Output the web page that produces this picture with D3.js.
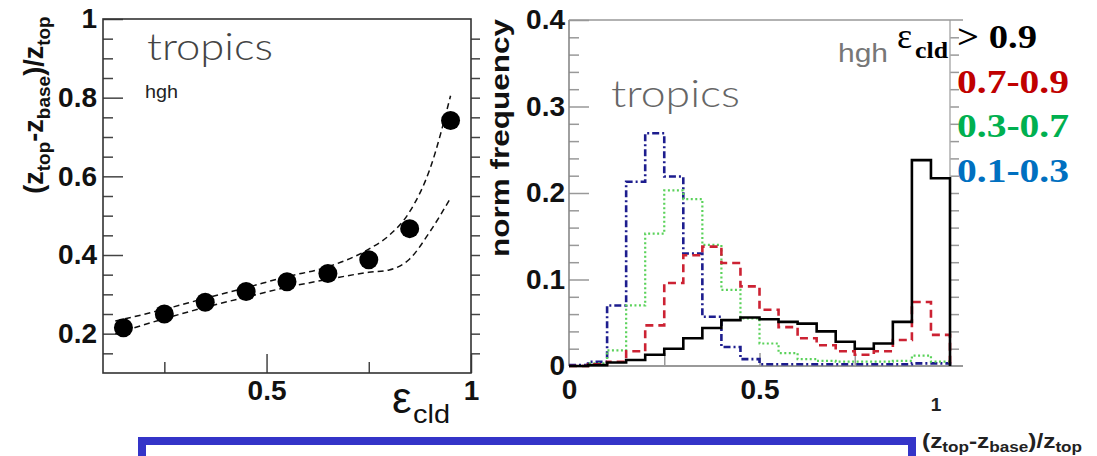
<!DOCTYPE html>
<html>
<head>
<meta charset="utf-8">
<script src="https://cdn.jsdelivr.net/npm/d3@7"></script>
<style>
  body { margin: 0; background: #fff; }
  svg { display: block; }
</style>
</head>
<body>
<svg id="drawing_region"></svg>
<script>
// left panel: mean cloud-thickness fraction vs emissivity
var epsBins = [0.15, 0.25, 0.35, 0.45, 0.55, 0.65, 0.75, 0.85, 0.95];
var meanFrac = [0.215, 0.25, 0.28, 0.307, 0.332, 0.353, 0.388, 0.467, 0.742];
var upperX = [0.13, 0.25, 0.35, 0.45, 0.55, 0.65, 0.75, 0.8, 0.85, 0.9, 0.95];
var upperY = [0.232, 0.262, 0.29, 0.317, 0.345, 0.37, 0.415, 0.45, 0.51, 0.62, 0.805];
var lowerX = [0.13, 0.25, 0.35, 0.45, 0.55, 0.65, 0.75, 0.8, 0.85, 0.9, 0.95];
var lowerY = [0.2, 0.238, 0.267, 0.293, 0.318, 0.338, 0.356, 0.362, 0.39, 0.46, 0.545];

// right panel: histograms of (ztop-zbase)/ztop, bins of 0.05
var binLo = [0, 0.05, 0.1, 0.15, 0.2, 0.25, 0.3, 0.35, 0.4, 0.45,
             0.5, 0.55, 0.6, 0.65, 0.7, 0.75, 0.8, 0.85, 0.9, 0.95];
var histBlack = [0, 0.001, 0.004, 0.007, 0.013, 0.020, 0.032, 0.044, 0.053, 0.056,
                 0.054, 0.051, 0.049, 0.040, 0.028, 0.020, 0.026, 0.051, 0.238, 0.217];
var histRed = [0, 0.002, 0.005, 0.017, 0.047, 0.096, 0.128, 0.138, 0.119, 0.092,
               0.065, 0.045, 0.032, 0.024, 0.017, 0.013, 0.017, 0.030, 0.074, 0.036];
var histGreen = [0, 0.003, 0.018, 0.07, 0.153, 0.203, 0.193, 0.14, 0.088, 0.055,
                 0.026, 0.015, 0.008, 0.006, 0.005, 0.005, 0.005, 0.006, 0.012, 0.005];
var histBlue = [0.001, 0.005, 0.07, 0.213, 0.269, 0.219, 0.13, 0.057, 0.022, 0.008,
                0.002, 0.002, 0.002, 0.002, 0.002, 0.002, 0.002, 0.002, 0.003, 0.003];

var legendLabels = ['> 0.9', '0.7-0.9', '0.3-0.7', '0.1-0.3'];
var legendColors = ['#000000', '#c00000', '#00b050', '#0070c0'];

var width = 1097, height = 456;
var svg = d3.select('#drawing_region')
    .attr('width', width)
    .attr('height', height);

var sans = 'Liberation Sans, Arial, sans-serif';
var serif = 'Liberation Serif, Times New Roman, serif';
var thin = 'Lato, DejaVu Sans, sans-serif';

// ---------- left panel ----------
const xL = d3.scaleLinear().domain([0.1, 1]).range([103, 471]);
const yL = d3.scaleLinear().domain([0.1, 1]).range([373, 19]);

const left = svg.append('g');

const yMinorL = d3.range(0.15, 0.99, 0.05).filter(v => Math.abs(v * 5 - Math.round(v * 5)) > 0.01);
// left axis, ticks pointing inward
left.append('g')
    .attr('transform', `translate(${xL(0.1)},0)`)
    .call(d3.axisLeft(yL).tickValues(yMinorL).tickSize(-10).tickFormat(''))
    .call(g => g.select('.domain').remove());
left.append('g')
    .attr('transform', `translate(${xL(0.1)},0)`)
    .call(d3.axisLeft(yL).tickValues([0.2, 0.4, 0.6, 0.8, 1]).tickSize(-20).tickPadding(6)
        .tickFormat(d => d === 1 ? '1' : d3.format('.1f')(d)))
    .call(g => g.select('.domain').remove())
    .call(g => g.selectAll('text').attr('font-size', 28).attr('font-weight', 'bold')
        .attr('font-family', sans).attr('fill', '#111'));
// right side ticks
left.append('g')
    .attr('transform', `translate(${xL(1)},0)`)
    .call(d3.axisRight(yL).tickValues(d3.range(0.15, 0.99, 0.05)).tickSize(9).tickFormat(''))
    .call(g => g.select('.domain').remove());
// bottom axis
left.append('g')
    .attr('transform', `translate(0,${yL(0.1)})`)
    .call(d3.axisBottom(xL).tickValues([0.25, 0.75]).tickSize(-11).tickFormat(''))
    .call(g => g.select('.domain').remove());
left.append('g')
    .attr('transform', `translate(0,${yL(0.1)})`)
    .call(d3.axisBottom(xL).tickValues([0.5, 1]).tickSize(-19).tickPadding(7)
        .tickFormat(d => d === 1 ? '1' : '0.5'))
    .call(g => g.select('.domain').remove())
    .call(g => g.selectAll('text').attr('font-size', 28).attr('font-weight', 'bold')
        .attr('font-family', sans).attr('fill', '#111'));
left.selectAll('.tick line').attr('stroke', '#444').attr('stroke-width', 1.5);

left.append('rect')
    .attr('x', xL(0.1)).attr('y', yL(1))
    .attr('width', xL(1) - xL(0.1)).attr('height', yL(0.1) - yL(1))
    .attr('fill', 'none').attr('stroke', '#333').attr('stroke-width', 1.6);

const curve = d3.line()
    .x(d => xL(d[0]))
    .y(d => yL(d[1]))
    .curve(d3.curveMonotoneX);
left.append('path')
    .attr('d', curve(d3.zip(upperX, upperY)))
    .attr('fill', 'none').attr('stroke', '#111').attr('stroke-width', 1.5)
    .attr('stroke-dasharray', '6,4');
left.append('path')
    .attr('d', curve(d3.zip(lowerX, lowerY)))
    .attr('fill', 'none').attr('stroke', '#111').attr('stroke-width', 1.5)
    .attr('stroke-dasharray', '6,4');

left.selectAll('circle.pt')
    .data(d3.zip(epsBins, meanFrac))
    .join('circle')
    .attr('class', 'pt')
    .attr('cx', d => xL(d[0]))
    .attr('cy', d => yL(d[1]))
    .attr('r', 9.5)
    .attr('fill', '#000');

left.append('text')
    .attr('x', 147).attr('y', 60)
    .attr('font-family', thin).attr('font-weight', 300).attr('font-size', 37)
    .attr('fill', '#444').attr('textLength', 126).attr('lengthAdjust', 'spacingAndGlyphs')
    .text('tropics');
left.append('text')
    .attr('x', 145).attr('y', 98)
    .attr('font-family', sans).attr('font-size', 18)
    .attr('fill', '#222').attr('textLength', 33).attr('lengthAdjust', 'spacingAndGlyphs')
    .text('hgh');

// y label
const ylab = left.append('text')
    .attr('transform', 'translate(43,105) rotate(-90)')
    .attr('text-anchor', 'middle')
    .attr('font-family', sans).attr('font-weight', 'bold').attr('font-size', 27)
    .attr('fill', '#111');
[['(z', 0], ['top', 1], ['-z', 0], ['base', 1], [')/z', 0], ['top', 1]].forEach(function (p, i, arr) {
    var prevSub = i > 0 ? arr[i - 1][1] : 0;
    ylab.append('tspan')
        .attr('font-size', p[1] ? 19 : 27)
        .attr('dy', p[1] && !prevSub ? 7 : (!p[1] && prevSub ? -7 : 0))
        .text(p[0]);
});

// epsilon_cld label
left.append('text')
    .attr('x', 392).attr('y', 413)
    .attr('font-family', sans).attr('font-size', 44).attr('fill', '#111')
    .text('\u03b5');
left.append('text')
    .attr('x', 413).attr('y', 423)
    .attr('font-family', sans).attr('font-size', 25).attr('fill', '#111')
    .attr('textLength', 37).attr('lengthAdjust', 'spacingAndGlyphs')
    .text('cld');

// ---------- right panel ----------
const xR = d3.scaleLinear().domain([0, 1]).range([569, 950]);
const yR = d3.scaleLinear().domain([0, 0.4]).range([366, 20]);
const right = svg.append('g');

right.append('g')
    .attr('transform', `translate(${xR(0)},0)`)
    .call(d3.axisLeft(yR).tickValues(d3.range(0.02, 0.399, 0.02).filter(v => Math.abs(v * 10 - Math.round(v * 10)) > 0.01))
        .tickSize(-10).tickFormat(''))
    .call(g => g.select('.domain').remove());
right.append('g')
    .attr('transform', `translate(${xR(0)},0)`)
    .call(d3.axisLeft(yR).tickValues([0, 0.1, 0.2, 0.3, 0.4]).tickSize(-20).tickPadding(4)
        .tickFormat(d => d === 0 ? '0' : d3.format('.1f')(d)))
    .call(g => g.select('.domain').remove())
    .call(g => g.selectAll('text').attr('font-size', 28).attr('font-weight', 'bold')
        .attr('font-family', sans).attr('fill', '#111'));
right.append('g')
    .attr('transform', `translate(${xR(1)},0)`)
    .call(d3.axisRight(yR).tickValues(d3.range(0.02, 0.399, 0.02)).tickSize(9).tickFormat(''))
    .call(g => g.select('.domain').remove());
right.append('g')
    .attr('transform', `translate(0,${yR(0)})`)
    .call(d3.axisBottom(xR).tickValues([0.25, 0.5, 0.75]).tickSize(-13).tickFormat(''))
    .call(g => g.select('.domain').remove());
right.selectAll('.tick line').attr('stroke', '#999').attr('stroke-width', 1.5);

right.append('line')
    .attr('x1', xR(0)).attr('x2', xR(0)).attr('y1', yR(0.4)).attr('y2', yR(0))
    .attr('stroke', '#888').attr('stroke-width', 1.6);
right.append('line')
    .attr('x1', xR(1)).attr('x2', xR(1)).attr('y1', yR(0.4)).attr('y2', yR(0))
    .attr('stroke', '#aaa').attr('stroke-width', 1.4);
right.append('line')
    .attr('x1', xR(0)).attr('x2', 963).attr('y1', yR(0.4)).attr('y2', yR(0.4))
    .attr('stroke', '#999').attr('stroke-width', 1.6);
right.append('line')
    .attr('x1', xR(0)).attr('x2', 963).attr('y1', yR(0)).attr('y2', yR(0))
    .attr('stroke', '#999').attr('stroke-width', 2);

// x tick labels
right.append('g')
    .attr('transform', `translate(0,${yR(0)})`)
    .call(d3.axisBottom(xR).tickValues([0, 0.5]).tickSize(0).tickPadding(13)
        .tickFormat(d => d === 0 ? '0' : '0.5'))
    .call(g => g.select('.domain').remove())
    .call(g => g.selectAll('text').attr('font-size', 28).attr('font-weight', 'bold')
        .attr('font-family', sans).attr('fill', '#111'));
right.append('text')
    .attr('x', 936).attr('y', 411).attr('text-anchor', 'middle')
    .attr('font-family', sans).attr('font-weight', 'bold').attr('font-size', 19)
    .attr('fill', '#222').text('1');

const step = d3.line()
    .x(d => xR(d[0]))
    .y(d => yR(d[1]))
    .curve(d3.curveStepAfter);
function histPoints(vals) {
    var pts = binLo.map((b, i) => [b, vals[i]]);
    pts.push([1, vals[vals.length - 1]]);
    pts.push([1, 0]);
    return pts;
}
var series = [
    { v: histBlue, color: '#1d1d8e', dash: '7,3,2,3', w: 2.6 },
    { v: histGreen, color: '#5ad25a', dash: '2,2.5', w: 2.2 },
    { v: histRed, color: '#cc2233', dash: '8,5', w: 2.6 },
    { v: histBlack, color: '#000', dash: null, w: 2.6 }
];
series.forEach(function (s) {
    right.append('path')
        .attr('d', step(histPoints(s.v)))
        .attr('fill', 'none')
        .attr('stroke', s.color)
        .attr('stroke-width', s.w)
        .attr('stroke-dasharray', s.dash);
});

right.append('text')
    .attr('x', 611).attr('y', 107)
    .attr('font-family', thin).attr('font-weight', 300).attr('font-size', 37)
    .attr('fill', '#666').attr('textLength', 129).attr('lengthAdjust', 'spacingAndGlyphs')
    .text('tropics');
right.append('text')
    .attr('x', 838).attr('y', 62)
    .attr('font-family', sans).attr('font-size', 26)
    .attr('fill', '#777').attr('textLength', 50).attr('lengthAdjust', 'spacingAndGlyphs')
    .text('hgh');

right.append('text')
    .attr('transform', 'translate(509,138) rotate(-90)')
    .attr('text-anchor', 'middle')
    .attr('font-family', sans).attr('font-weight', 'bold').attr('font-size', 26)
    .attr('fill', '#111').attr('textLength', 238).attr('lengthAdjust', 'spacingAndGlyphs')
    .text('norm frequency');

// bottom right axis label
const xlab = right.append('text')
    .attr('x', 922).attr('y', 448)
    .attr('font-family', sans).attr('font-weight', 'bold').attr('font-size', 20)
    .attr('fill', '#222').attr('textLength', 160).attr('lengthAdjust', 'spacingAndGlyphs');
[['(z', 0], ['top', 1], ['-z', 0], ['base', 1], [')/z', 0], ['top', 1]].forEach(function (p, i, arr) {
    var prevSub = i > 0 ? arr[i - 1][1] : 0;
    xlab.append('tspan')
        .attr('font-size', p[1] ? 14 : 20)
        .attr('dy', p[1] && !prevSub ? 4 : (!p[1] && prevSub ? -4 : 0))
        .text(p[0]);
});

// legend
svg.append('text')
    .attr('x', 897).attr('y', 48)
    .attr('font-family', serif).attr('font-size', 36).attr('fill', '#000')
    .text('\u03b5');
svg.append('text')
    .attr('x', 915).attr('y', 58)
    .attr('font-family', serif).attr('font-weight', 'bold').attr('font-size', 23)
    .attr('fill', '#000').attr('textLength', 33).attr('lengthAdjust', 'spacingAndGlyphs')
    .text('cld');
svg.selectAll('text.leg')
    .data(legendLabels)
    .join('text')
    .attr('class', 'leg')
    .attr('x', 957)
    .attr('y', (d, i) => 48 + i * 44.7)
    .attr('font-family', serif).attr('font-weight', 'bold').attr('font-size', 34)
    .attr('fill', (d, i) => legendColors[i])
    .attr('textLength', (d, i) => i === 0 ? 80 : 112)
    .attr('lengthAdjust', 'spacingAndGlyphs')
    .text(d => d);

// blue box at the bottom
svg.append('path')
    .attr('d', 'M142,470 L142,441 L912,441 L912,470')
    .attr('fill', 'none')
    .attr('stroke', '#3434c8')
    .attr('stroke-width', 8);
</script>
</body>
</html>
